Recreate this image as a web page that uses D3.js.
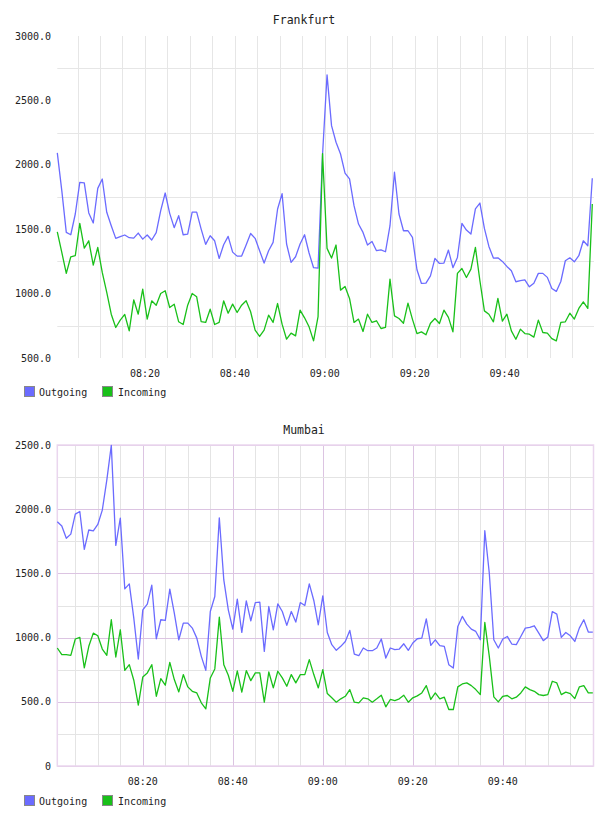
<!DOCTYPE html>
<html>
<head>
<meta charset="utf-8">
<script src="https://cdn.jsdelivr.net/npm/d3@7"></script>
<style>
  html, body { margin: 0; padding: 0; background: #fff; }
  svg text { font-family: "DejaVu Sans Mono", "Liberation Mono", monospace; fill: #222; }
</style>
</head>
<body>
<svg id="chart" width="608" height="816"></svg>
<script>
// ---------- DATA ----------
const seriesNames = ["Outgoing", "Incoming"];
const seriesColors = ["#6b6bff", "#19c019"];

const frankfurtStart = "08:00:30";   // one sample per minute
const mumbaiStart = "08:01:00";

const frankfurtOutgoing = [2092,1800,1475,1457,1618,1864,1859,1626,1548,1817,1890,1631,1527,1429,1442,1455,1434,1431,1470,1423,
  1455,1416,1473,1644,1781,1623,1512,1605,1457,1462,1633,1633,1501,1382,1449,1410,1273,1379,1444,1322,
  1291,1291,1377,1467,1429,1333,1237,1333,1398,1657,1776,1385,1242,1286,1385,1457,1315,1201,1198,2080,
  2698,2304,2175,2084,1936,1890,1683,1540,1475,1377,1405,1333,1340,1325,1527,1942,1618,1488,1488,1436,
  1185,1079,1081,1138,1273,1234,1237,1338,1201,1281,1545,1493,1462,1657,1703,1506,1366,1276,1278,1250,
  1211,1177,1092,1100,1107,1053,1081,1157,1157,1126,1040,1017,1094,1255,1278,1247,1294,1410,1372,1895];
const frankfurtIncoming = [1480,1320,1157,1286,1294,1545,1353,1410,1221,1358,1164,1009,840,737,794,838,711,952,840,1035,
  802,944,910,1001,1022,892,918,781,760,910,1001,975,783,776,879,760,776,944,848,918,
  853,910,944,859,716,667,716,833,776,923,763,646,693,672,872,812,742,633,822,2087,
  1351,1276,1377,1027,1055,962,776,802,706,840,776,789,729,737,1112,827,807,770,926,800,
  690,703,680,770,807,768,872,815,703,1157,1195,1125,1190,1359,1100,866,840,781,962,786,
  840,711,646,724,690,685,662,794,698,693,651,633,776,781,848,802,885,936,885,1695];

const mumbaiOutgoing = [1902,1869,1773,1806,1962,1982,1687,1838,1832,1881,1993,2226,2497,1718,1931,1379,1418,1152,833,1216,
  1260,1408,991,1139,1134,1377,1190,983,1113,1113,1074,996,854,745,1203,1320,1933,1449,1216,1066,
  1299,1040,1286,1131,1273,1276,893,1242,1061,1263,1203,1095,1203,1121,1273,1250,1418,1289,1100,1325,
  1040,945,901,932,970,1056,872,859,919,898,898,919,989,841,919,906,911,952,901,958,
  991,996,1146,939,983,937,932,789,763,1087,1165,1105,1066,1048,983,1832,1501,983,919,989,
  1009,950,945,1009,1074,1079,1092,1035,976,1004,1203,1183,1002,1040,1014,970,1074,1139,1043,1043];
const mumbaiIncoming = [919,867,867,862,989,1002,764,932,1035,1014,911,862,1139,849,1061,745,789,668,474,694,
  725,789,543,681,629,807,673,577,712,616,582,569,492,445,686,756,1159,789,707,582,
  740,575,743,665,725,725,497,732,608,738,686,621,712,647,712,712,828,712,608,751,
  564,531,497,523,543,595,497,492,531,523,497,523,551,461,518,510,523,551,497,531,
  546,569,626,518,569,523,536,440,440,616,639,647,626,595,556,1118,854,538,499,543,
  549,523,536,569,616,595,582,556,549,556,660,647,556,575,564,525,616,626,569,569];

const xTickLabels = ["08:20", "08:40", "09:00", "09:20", "09:40"];
const frankfurtYTicks = [500, 1000, 1500, 2000, 2500, 3000];
const frankfurtGrid = [750, 1250, 1750, 2250, 2750];
const mumbaiYTicks = [0, 500, 1000, 1500, 2000, 2500];
const mumbaiGrid = [0, 250, 500, 750, 1000, 1250, 1500, 1750, 2000, 2250, 2500];

// ---------- DRAW ----------
const svg = d3.select("#chart");
const parseHMS = d3.timeParse("%H:%M:%S");
const parseHM = d3.timeParse("%H:%M");
const fmtY = d => d === 0 ? "0" : d.toFixed(1);

function times(start, n) {
  const t0 = parseHMS(start);
  return d3.range(n).map(i => d3.timeMinute.offset(t0, i));
}

function drawChart(cfg) {
  const g = svg.append("g");
  const t = times(cfg.start, cfg.series[0].length);
  const x = d3.scaleTime().domain([t[0], t[t.length - 1]]).range([cfg.left, cfg.right]);
  const y = d3.scaleLinear().domain(cfg.yDomain).range([cfg.bottom, cfg.top]);

  // title
  g.append("text").attr("x", 304).attr("y", cfg.titleY)
    .attr("text-anchor", "middle").style("font-size", "11.5px").text(cfg.title);

  const gridG = g.append("g");
  // vertical grid (every 5 minutes)
  const vt = x.ticks(d3.timeMinute.every(5)).filter(d => x(d) > cfg.left + 1 && x(d) < cfg.plotRight - 1);
  gridG.selectAll("line.v").data(vt).join("line")
    .attr("x1", d => Math.round(x(d)) + 0.5).attr("x2", d => Math.round(x(d)) + 0.5)
    .attr("y1", cfg.top).attr("y2", cfg.bottom)
    .attr("stroke", d => (cfg.majorColor && d.getMinutes() % 20 === 0) ? cfg.majorColor : cfg.gridColor)
    .attr("stroke-width", 1);
  // horizontal grid
  gridG.selectAll("line.h").data(cfg.grid).join("line")
    .attr("x1", cfg.left).attr("x2", cfg.plotRight)
    .attr("y1", d => Math.round(y(d)) + 0.5).attr("y2", d => Math.round(y(d)) + 0.5)
    .attr("stroke", d => (cfg.majorColor && d % 500 === 0) ? cfg.majorColor : cfg.gridColor)
    .attr("stroke-width", 1);

  if (cfg.border) {
    gridG.append("rect").attr("x", cfg.left).attr("y", cfg.top)
      .attr("width", cfg.plotRight - cfg.left).attr("height", cfg.bottom - cfg.top)
      .attr("fill", "none").attr("stroke", cfg.border).attr("stroke-width", 1.5);
  }

  // y labels
  g.selectAll("text.yl").data(cfg.yTicks).join("text")
    .attr("x", 51).attr("y", d => y(d)).attr("dy", "0.35em")
    .attr("text-anchor", "end").style("font-size", "10px").text(fmtY);

  // x labels
  g.selectAll("text.xl").data(xTickLabels).join("text")
    .attr("x", d => x(parseHM(d))).attr("y", cfg.bottom + 19)
    .attr("text-anchor", "middle").style("font-size", "10px").text(d => d);

  // lines
  const line = d3.line().x((d, i) => x(t[i])).y(d => y(d));
  cfg.series.forEach((s, k) => {
    g.append("path").datum(s).attr("d", line)
      .attr("fill", "none").attr("stroke", seriesColors[k])
      .attr("stroke-width", 1.3).attr("stroke-linejoin", "round");
  });

  // legend
  const lx = [24.5, 102.5], tx = [39, 118];
  seriesNames.forEach((n, k) => {
    g.append("rect").attr("x", lx[k]).attr("y", cfg.legendY)
      .attr("width", 10).attr("height", 10)
      .attr("fill", seriesColors[k]).attr("stroke", "#888").attr("stroke-width", 1);
    g.append("text").attr("x", tx[k]).attr("y", cfg.legendY + 9)
      .style("font-size", "10px").text(n);
  });
}

drawChart({
  title: "Frankfurt", titleY: 24, start: frankfurtStart,
  series: [frankfurtOutgoing, frankfurtIncoming],
  left: 57.3, right: 592.3, plotRight: 594, top: 36, bottom: 358,
  yDomain: [500, 3000], yTicks: frankfurtYTicks, grid: frankfurtGrid,
  gridColor: "#e6e6e6", majorColor: null, border: null, legendY: 386.5
});

drawChart({
  title: "Mumbai", titleY: 434, start: mumbaiStart,
  series: [mumbaiOutgoing, mumbaiIncoming],
  left: 57.3, right: 592.8, plotRight: 593.5, top: 445, bottom: 766,
  yDomain: [0, 2500], yTicks: mumbaiYTicks, grid: mumbaiGrid,
  gridColor: "#e4e4e4", majorColor: "#dcc4e2", border: "#ead6ee", legendY: 795.5
});
</script>
</body>
</html>
